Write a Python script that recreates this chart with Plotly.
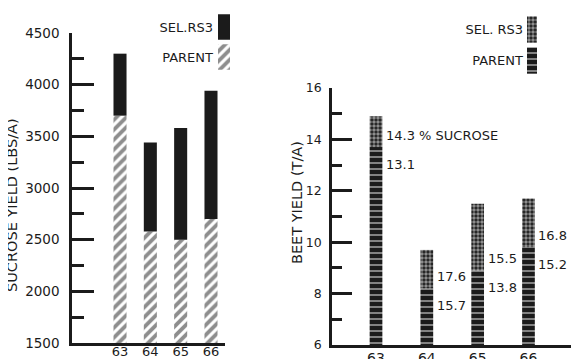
import plotly.graph_objects as go

years = ["63", "64", "65", "66"]
# Left chart: sucrose yield (lbs/acre)
sucrose_parent = [3700, 2580, 2500, 2700]
sucrose_sel = [4300, 3440, 3580, 3940]
# Right chart: beet yield (tons/acre)
beet_parent = [13.7, 8.2, 8.9, 9.8]
beet_sel = [14.9, 9.7, 11.5, 11.7]
# % sucrose labels
pct_sel = ["14.3 % SUCROSE", "17.6", "15.5", "16.8"]
pct_parent = ["13.1", "15.7", "13.8", "15.2"]

left_legend = ["PARENT", "SEL.RS3"]
right_legend = ["PARENT", "SEL. RS3"]

INK = "#1b1b1b"
FONT = "DejaVu Sans"
W, H = 579, 359
OFF = 8  # page body margin offset

def px_x(p):
    return (p - OFF) / W

def px_y(p):
    return (H - (p - OFF)) / H

hatch = dict(shape="/", fgcolor=INK, bgcolor="white", size=7, solidity=0.55)
stripes = dict(shape="-", fgcolor="white", bgcolor=INK, size=6, solidity=0.3)
checker = dict(shape=".", fgcolor="white", bgcolor=INK, size=4, solidity=0.6)

fig = go.Figure()

# Left chart bars
fig.add_trace(go.Bar(x=years, y=sucrose_parent, width=0.43, xaxis="x", yaxis="y",
                     marker=dict(color="white", pattern=hatch, line=dict(width=0)),
                     showlegend=False))
fig.add_trace(go.Bar(x=years, y=[s - p for s, p in zip(sucrose_sel, sucrose_parent)],
                     base=sucrose_parent, width=0.43, xaxis="x", yaxis="y",
                     marker=dict(color=INK, line=dict(width=0)), showlegend=False))

# Right chart bars
fig.add_trace(go.Bar(x=years, y=beet_parent, width=0.25, xaxis="x2", yaxis="y2",
                     marker=dict(color=INK, pattern=stripes, line=dict(width=0)),
                     showlegend=False))
fig.add_trace(go.Bar(x=years, y=[s - p for s, p in zip(beet_sel, beet_parent)],
                     base=beet_parent, width=0.25, xaxis="x2", yaxis="y2",
                     marker=dict(color=INK, pattern=checker, line=dict(width=0)),
                     showlegend=False))

# Legend swatches (horizontal bars on small axes, category labels as text)
fig.add_trace(go.Bar(y=[left_legend[0]], x=[1], orientation="h", width=0.85,
                     xaxis="x3", yaxis="y3",
                     marker=dict(color="white", pattern=hatch, line=dict(width=0)),
                     showlegend=False))
fig.add_trace(go.Bar(y=[left_legend[1]], x=[1], orientation="h", width=0.85,
                     xaxis="x3", yaxis="y3",
                     marker=dict(color=INK, line=dict(width=0)), showlegend=False))
fig.add_trace(go.Bar(y=[right_legend[0]], x=[1], orientation="h", width=0.85,
                     xaxis="x4", yaxis="y4",
                     marker=dict(color=INK, pattern=stripes, line=dict(width=0)),
                     showlegend=False))
fig.add_trace(go.Bar(y=[right_legend[1]], x=[1], orientation="h", width=0.85,
                     xaxis="x4", yaxis="y4",
                     marker=dict(color=INK, pattern=checker, line=dict(width=0)),
                     showlegend=False))

# Sucrose % annotations next to right bars
for i, (pp, tsel, tpar) in enumerate(zip(beet_parent, pct_sel, pct_parent)):
    fig.add_annotation(x=i, y=pp, xref="x2", yref="y2", text=tsel, showarrow=False,
                       xanchor="left", yanchor="middle", xshift=8, yshift=12,
                       font=dict(size=13, color=INK, family=FONT))
    fig.add_annotation(x=i, y=pp, xref="x2", yref="y2", text=tpar, showarrow=False,
                       xanchor="left", yanchor="middle", xshift=8, yshift=-17,
                       font=dict(size=13, color=INK, family=FONT))

# Axis titles
fig.add_annotation(x=px_x(12), y=px_y(205), xref="paper", yref="paper",
                   xanchor="center", yanchor="middle",
                   text="SUCROSE YIELD (LBS/A)", textangle=-90, showarrow=False,
                   font=dict(size=14.5, color=INK, family=FONT))
fig.add_annotation(x=px_x(297), y=px_y(203), xref="paper", yref="paper",
                   xanchor="center", yanchor="middle",
                   text="BEET YIELD (T/A)", textangle=-90, showarrow=False,
                   font=dict(size=14.5, color=INK, family=FONT))

line_common = dict(showgrid=False, zeroline=False, showline=True, linecolor=INK,
                   linewidth=2.5, automargin=False)

fig.update_layout(
    width=W, height=H, margin=dict(l=0, r=0, t=0, b=0, autoexpand=False),
    paper_bgcolor="white", plot_bgcolor="white", barmode="overlay",
    font=dict(family=FONT, color=INK),
    xaxis=dict(domain=[px_x(72), px_x(225)], anchor="y", range=[-1.583, 3.462],
               type="category", ticks="", ticklabelstandoff=-5,
               tickfont=dict(size=13, color=INK, family=FONT), **line_common),
    yaxis=dict(domain=[px_y(343), px_y(33)], anchor="x", range=[1500, 4500],
               tickvals=[1500, 2000, 2500, 3000, 3500, 4000, 4500],
               ticks="inside", ticklen=22, tickwidth=2.5, tickcolor=INK,
               ticklabelstandoff=7,
               tickfont=dict(size=13.5, color=INK, family=FONT),
               minor=dict(dtick=250, ticks="inside", ticklen=12, tickwidth=2.5,
                          tickcolor=INK),
               **line_common),
    xaxis2=dict(domain=[px_x(332), px_x(579)], anchor="y2", range=[-0.866, 3.994],
                type="category", ticks="", ticklabelstandoff=-2,
                tickfont=dict(size=14, color=INK, family=FONT), **line_common),
    yaxis2=dict(domain=[px_y(345), px_y(88)], anchor="x2", range=[6, 16],
                tickvals=[6, 8, 10, 12, 14, 16],
                ticks="inside", ticklen=20, tickwidth=2.5, tickcolor=INK,
                ticklabelstandoff=5,
                tickfont=dict(size=12.5, color=INK, family=FONT),
                minor=dict(dtick=1, ticks="inside", ticklen=10, tickwidth=2.5,
                           tickcolor=INK),
                **line_common),
    xaxis3=dict(domain=[px_x(218), px_x(230)], anchor="y3", range=[0, 1],
                visible=False, fixedrange=True, automargin=False),
    yaxis3=dict(domain=[px_y(72), px_y(12)], anchor="x3", type="category",
                showline=False, showgrid=False, zeroline=False, ticks="",
                ticklabelstandoff=4, automargin=False,
                tickfont=dict(size=13, color=INK, family=FONT)),
    xaxis4=dict(domain=[px_x(527), px_x(537)], anchor="y4", range=[0, 1],
                visible=False, fixedrange=True, automargin=False),
    yaxis4=dict(domain=[px_y(76), px_y(14)], anchor="x4", type="category",
                showline=False, showgrid=False, zeroline=False, ticks="",
                ticklabelstandoff=3, automargin=False,
                tickfont=dict(size=13, color=INK, family=FONT)),
)

fig.write_html("out.html")
